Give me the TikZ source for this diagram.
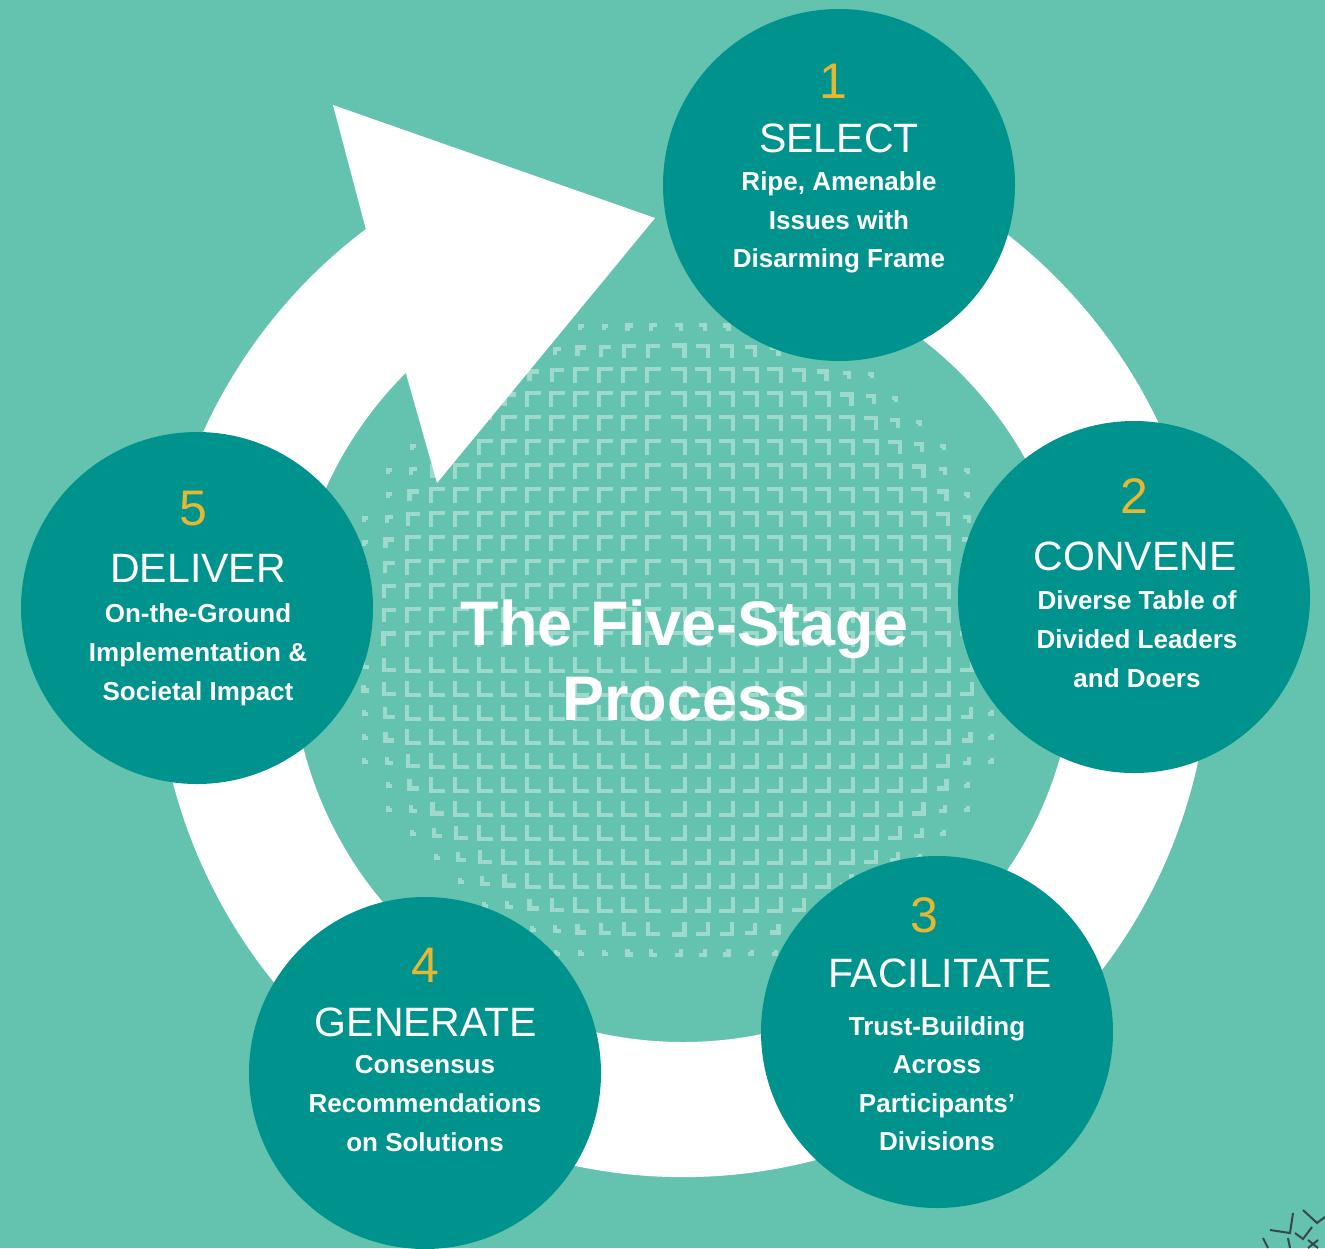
\documentclass[tikz,border=0pt]{standalone}
\usepackage{fontspec}
\setmainfont{Liberation Sans}
\definecolor{bgteal}{RGB}{99,195,174}
\definecolor{darkteal}{RGB}{0,146,140}
\definecolor{numgold}{RGB}{230,184,50}
\definecolor{chevcol}{RGB}{158,218,204}
\definecolor{scribble}{RGB}{55,70,75}

\begin{document}
\begin{tikzpicture}[x=1pt,y=1pt,
  stage/.style={circle,fill=darkteal,minimum size=352pt,inner sep=0pt},
  stagenum/.style={text=numgold,font=\fontsize{50}{50}\selectfont,anchor=base,inner sep=0pt},
  stagehead/.style={text=white,font=\fontsize{41}{41}\selectfont,anchor=base,inner sep=0pt},
  stagesub/.style={text=white,font=\bfseries\fontsize{26}{26}\selectfont,anchor=base,inner sep=0pt},
  maintitle/.style={text=white,font=\bfseries\fontsize{63}{63}\selectfont,anchor=base,inner sep=0pt},
  chevron/.style={draw=chevcol,line width=4.5pt},
  scrib/.style={draw=scribble,line width=2pt}]
\fill[bgteal] (0,0) rectangle (1325,-1248);
\useasboundingbox (0,0) rectangle (1325,-1248);
% chevron texture in the middle
\foreach \i in {-14,...,14}{
  \foreach \j in {-14,...,14}{
    \pgfmathtruncatemacro{\ok}{sqrt((\i)*(\i)+(\j)*(\j))<14 ? 1 : 0}
    \ifnum\ok=1
      \pgfmathsetmacro{\sx}{(\i)<0 ? -1 : 1}
      \pgfmathsetmacro{\sy}{(\j)<0 ? -1 : 1}
      \pgfmathsetmacro{\hh}{7*min(1,max(0.3,(14-sqrt((\i)*(\i)+(\j)*(\j)))/2.2))}
      \pgfmathsetmacro{\px}{678+24*(\i)}
      \pgfmathsetmacro{\py}{-640+24*(\j)}
      \pgfmathsetmacro{\xa}{\px-(\sx)*(\hh)}
      \pgfmathsetmacro{\xb}{\px+(\sx)*(\hh)}
      \pgfmathsetmacro{\ya}{\py+(\sy)*(\hh)}
      \pgfmathsetmacro{\yb}{\py-(\sy)*(\hh)}
      \draw[chevron] (\xa,\ya) -- (\xb,\ya) -- (\xb,\yb);
    \fi
  }
}
% ring with arrow head
\fill[white] ([shift={(683,-650)}]72:527) arc[start angle=72,end angle=-233,radius=527]
  -- (333,-105) -- (655,-218) -- (437,-483)
  -- ([shift={(683,-650)}]-225:392) arc[start angle=-225,end angle=72,radius=392] -- cycle;
% stages
\node[stage] (select) at (839,-185) {};
\node[stage] (convene) at (1134,-597) {};
\node[stage] (facilitate) at (937,-1032) {};
\node[stage] (generate) at (425,-1073) {};
\node[stage] (deliver) at (197,-608) {};
\node[stagenum] (num1) at (833,-98) {1};
\node[stagehead] (head1) at (839,-152) {SELECT};
\node[stagesub] (sub1a) at (839,-190) {Ripe, Amenable};
\node[stagesub] (sub1b) at (839,-229) {Issues with};
\node[stagesub] (sub1c) at (839,-267) {Disarming Frame};
\node[stagenum] (num2) at (1134,-513) {2};
\node[stagehead] (head2) at (1135,-570) {CONVENE};
\node[stagesub] (sub2a) at (1137,-609) {Diverse Table of};
\node[stagesub] (sub2b) at (1137,-648) {Divided Leaders};
\node[stagesub] (sub2c) at (1137,-687) {and Doers};
\node[stagenum] (num3) at (924,-932) {3};
\node[stagehead] (head3) at (940,-987) {FACILITATE};
\node[stagesub] (sub3a) at (937,-1035) {Trust-Building};
\node[stagesub] (sub3b) at (937,-1073) {Across};
\node[stagesub] (sub3c) at (937,-1112) {Participants’};
\node[stagesub] (sub3d) at (937,-1150) {Divisions};
\node[stagenum] (num4) at (425,-982) {4};
\node[stagehead] (head4) at (426,-1036) {GENERATE};
\node[stagesub] (sub4a) at (425,-1073) {Consensus};
\node[stagesub] (sub4b) at (425,-1112) {Recommendations};
\node[stagesub] (sub4c) at (425,-1151) {on Solutions};
\node[stagenum] (num5) at (193,-525) {5};
\node[stagehead] (head5) at (198,-582) {DELIVER};
\node[stagesub] (sub5a) at (198,-622) {On-the-Ground};
\node[stagesub] (sub5b) at (198,-661) {Implementation \&};
\node[stagesub] (sub5c) at (198,-700) {Societal Impact};
% centre title
\node[maintitle] (title1) at (685,-645) {The Five-Stage};
\node[maintitle] (title2) at (685,-720) {Process};
% bit of a logo in the corner
\draw[scrib] (1270,-1230) -- (1290,-1233) -- (1293,-1213);
\draw[scrib] (1303,-1210) -- (1317,-1223) -- (1325,-1217);
\draw[scrib] (1295,-1233) -- (1303,-1239) -- (1312,-1227);
\draw[scrib] (1288,-1238) -- (1290,-1248);
\draw[scrib] (1263,-1238) -- (1268,-1248);
\draw[scrib] (1308,-1240) -- (1318,-1248) (1318,-1240) -- (1308,-1248);
\end{tikzpicture}
\end{document}
